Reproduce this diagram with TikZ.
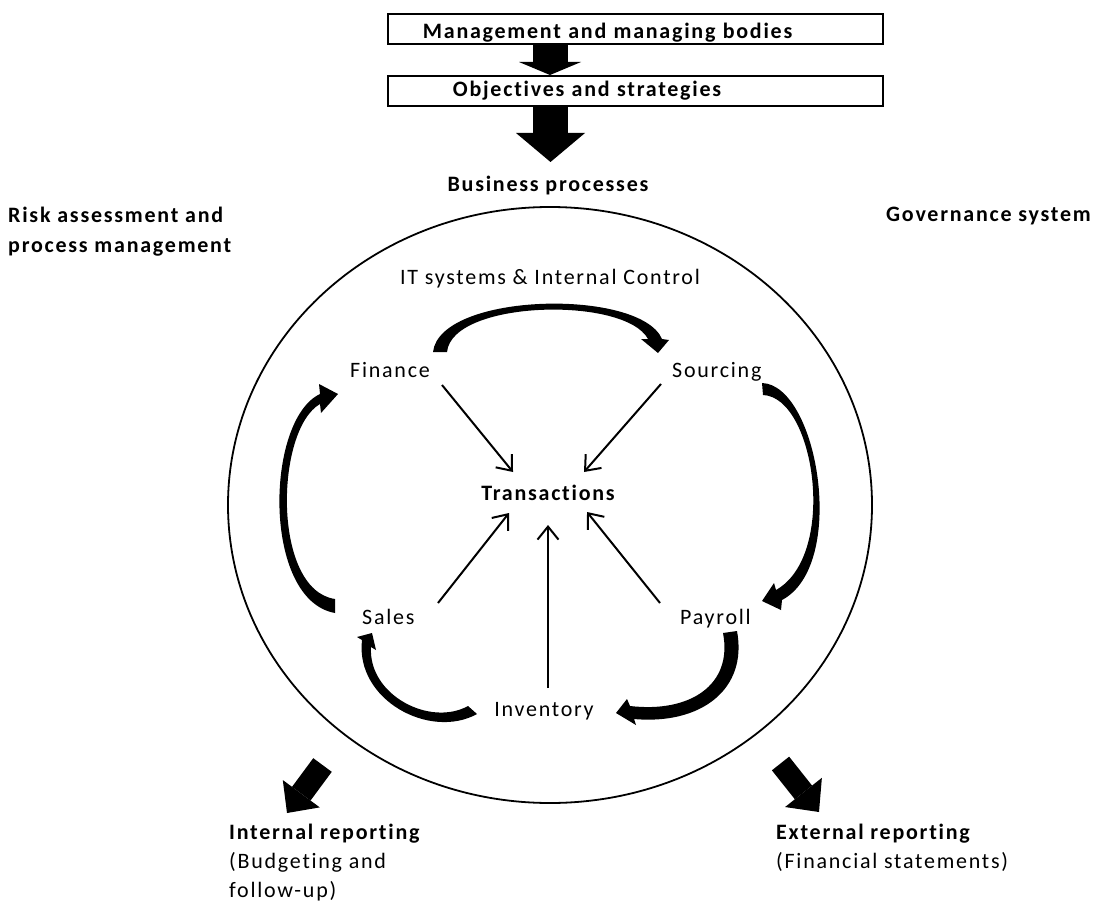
\documentclass[tikz,border=0pt]{standalone}
\usepackage{fontspec}
\setmainfont{Carlito}[LetterSpace=8, Ligatures={NoCommon}]
\usetikzlibrary{arrows.meta}
\begin{document}
\begin{tikzpicture}[x=1pt,y=-1pt,
  lbl/.style={inner sep=0pt, font=\fontsize{22}{29}\selectfont},
  blbl/.style={inner sep=0pt, font=\fontsize{22}{30}\selectfont\bfseries},
  boxnode/.style={draw, line width=1.8pt, text width=495pt, minimum height=30pt, inner xsep=0pt, inner ysep=0pt, align=left, font=\fontsize{22}{29}\selectfont\bfseries, anchor=north west},
  tarrow/.style={line width=2pt, -{Straight Barb[length=13pt,width=21pt]}},
  crescent/.style={fill=black},
  fatarrow/.style={line width=#1},
]
\useasboundingbox[fill=white] (0,0) rectangle (1094,904);

% top boxes
\node[boxnode, text height=20pt, text depth=0pt] (mgmt) at (387,13) {\hspace*{35pt}Management and managing bodies};
\node[boxnode, text height=16pt, text depth=5pt] (obj) at (387,75) {\hspace*{65pt}Objectives and strategies};
\node[blbl, anchor=base] (bp) at (548,192) {Business processes};
\coordinate (bptip) at (550.5,162);

\draw[fatarrow=35pt, -{Triangle[length=13pt,width=62pt,line width=0pt]}] ([xshift=163pt]mgmt.south west) -- ([xshift=163pt]obj.north west);
\draw[fatarrow=35pt, -{Triangle[length=29pt,width=69pt,line width=0pt]}] ([xshift=163.5pt]obj.south west) -- (bptip);

% side titles
\node[blbl, anchor=base west, align=left] (risk) at (8,252) {Risk assessment and\\process management};
\node[blbl, anchor=base west] (gov) at (886,222) {Governance system};

% big circle
\draw[line width=1.8pt] (550,505) ellipse [x radius=322pt, y radius=298pt];

% inner labels
\node[lbl, anchor=base] (it) at (550,284) {IT systems \& Internal Control};
\node[lbl, anchor=base west] (fin) at (350,377) {Finance};
\node[lbl, anchor=base west] (src) at (672,377) {Sourcing};
\node[blbl, anchor=base] (tr) at (548,500) {Transactions};
\node[lbl, anchor=base west] (sal) at (362,624) {Sales};
\node[lbl, anchor=base west] (pay) at (680,624) {Payroll};
\node[lbl, anchor=base] (inv) at (544,716) {Inventory};

% thin arrows to Transactions
\draw[tarrow] ([shift={(92,8)}]fin.base west) -- ([shift={(-35,-28)}]tr.base);
\draw[tarrow] ([shift={(-11,7)}]src.base west) -- ([shift={(36,-28)}]tr.base);
\draw[tarrow] ([shift={(76,-21)}]sal.base west) -- ([shift={(-39,13)}]tr.base);
\draw[tarrow] ([shift={(4,-28)}]inv.base) -- ([shift={(0,25)}]tr.base);
\draw[tarrow] ([shift={(-20,-21)}]pay.base west) -- ([shift={(39,12)}]tr.base);

% curved cycle arrows
% Finance -> Sourcing
\fill[crescent] (433,352) .. controls (440,292) and (640,288) .. (662,339) -- (669,340) -- (658,353) -- (641,339) -- (648,339) .. controls (625,296) and (452,300) .. (447,352) -- cycle;
% Sourcing -> Payroll
\fill[crescent] (762,383) .. controls (818,385) and (848,565) .. (782,600) -- (781,610) -- (762,601) -- (774,583) -- (776,590) .. controls (838,555) and (815,397) .. (763,395) -- cycle;
% Payroll -> Inventory
\fill[crescent] (737,631) .. controls (748,690) and (700,725) .. (634,719) -- (636,725) -- (616,713) -- (627,699) -- (630,706) .. controls (690,713) and (733,685) .. (723,633) -- cycle;
% Inventory -> Sales
\fill[crescent] (477,714) .. controls (430,740) and (355,700) .. (362,640) -- (357,637) -- (372,633) -- (376,650) -- (371,647) .. controls (368,695) and (430,727) .. (468,706) -- cycle;
% Sales -> Finance
\fill[crescent] (335,613) .. controls (262,600) and (265,420) .. (320,394) -- (319,384) -- (338,394) -- (321,413) -- (320,404) .. controls (275,430) and (272,590) .. (335,599) -- cycle;

% reporting
\node[lbl, anchor=base west, align=left] (intr) at (229,897) {\textbf{Internal reporting}\\(Budgeting and\\follow-up)};
\node[lbl, anchor=base west, align=left] (extr) at (776,868) {\textbf{External reporting}\\(Financial statements)};
\coordinate (itail) at (322.5,765);
\coordinate (itip) at (287,813);
\coordinate (etail) at (780.5,763.5);
\coordinate (etip) at (819,812);
\draw[fatarrow=23pt, -{Triangle[length=24pt,width=46pt,line width=0pt]}] (itail) -- (itip);
\draw[fatarrow=22pt, -{Triangle[length=25pt,width=47pt,line width=0pt]}] (etail) -- (etip);
\end{tikzpicture}
\end{document}
